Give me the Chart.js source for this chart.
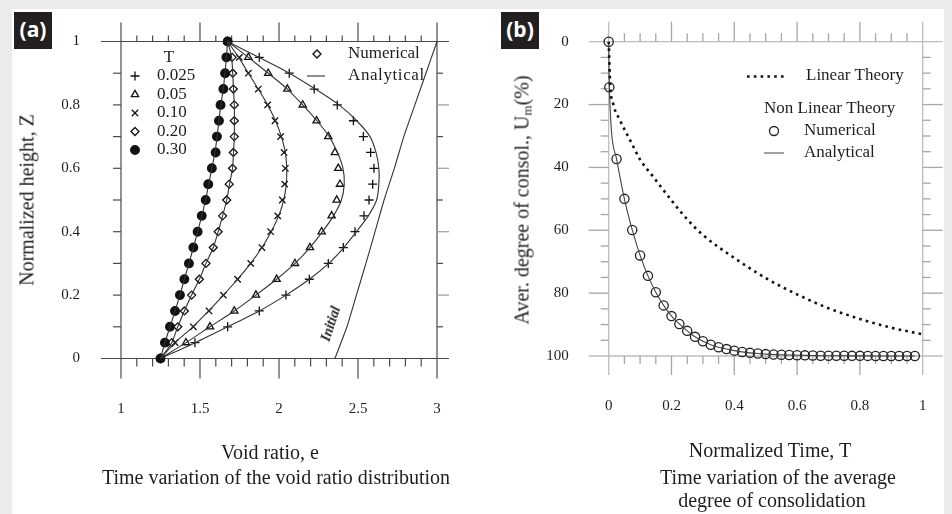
<!DOCTYPE html>
<html>
<head>
<meta charset="utf-8">
<script src="https://cdn.jsdelivr.net/npm/chart.js@4.4.0/dist/chart.umd.min.js"></script>
<style>
html, body { margin: 0; padding: 0; }
body { width: 952px; height: 514px; background: #ebebeb; position: relative; overflow: hidden; font-family: 'Liberation Serif', serif; color: #1e1e1e; }
#sheet { position: absolute; left: 12px; top: 9px; width: 932px; height: 505px; background: #fff; }
canvas { position: absolute; left: 0; top: 0; }
.tag { position: absolute; width: 38px; height: 37px; background: #231f20; color: #fff; font: bold 21px 'Open Sans', sans-serif; text-align: center; line-height: 35px; }
.t { position: absolute; white-space: nowrap; font-size: 20px; transform: translate(-50%, -50%); }
.rot { transform: translate(-50%, -50%) rotate(-90deg); }
.t sub { font-size: 13px; vertical-align: -3px; }
.init { position: absolute; font-size: 14px; font-style: italic; font-weight: bold; transform: translate(-50%, -50%) rotate(-72deg); white-space: nowrap; }
</style>
</head>
<body>
<div id="sheet"></div>
<canvas id="chartA" width="952" height="514"></canvas>
<canvas id="chartB" width="952" height="514"></canvas>

<div class="tag" style="left:14px; top:12px;">(a)</div>
<div class="tag" style="left:501px; top:12px;">(b)</div>

<div class="t rot" style="left:27px; top:200px;">Normalized height, Z</div>
<div class="t" style="left:270px; top:452px;">Void ratio, e</div>
<div class="t" style="left:276px; top:477px;">Time variation of the void ratio distribution</div>
<div class="init" style="left:331px; top:324px;">Initial</div>

<div class="t rot" style="left:523px; top:200px;">Aver. degree of consol., U<sub>m</sub>(%)</div>
<div class="t" style="left:770px; top:450px;">Normalized Time, T</div>
<div class="t" style="left:778px; top:477px;">Time variation of the average</div>
<div class="t" style="left:772px; top:500px;">degree of consolidation</div>

<script>
// ---- panel (a) data: void ratio e at normalized height Z ----
var zLevels = [0, 0.05, 0.1, 0.15, 0.2, 0.25, 0.3, 0.35, 0.4, 0.45, 0.5, 0.55, 0.6, 0.65, 0.7, 0.75, 0.8, 0.85, 0.9, 0.95, 1];
var tLabels = ['0.025', '0.05', '0.10', '0.20', '0.30'];

var eNum025 = [1.25, 1.468, 1.675, 1.875, 2.044, 2.192, 2.312, 2.407, 2.481, 2.538, 2.570, 2.593, 2.601, 2.580, 2.534, 2.471, 2.369, 2.223, 2.065, 1.875, 1.675];
var eNum05  = [1.25, 1.411, 1.563, 1.717, 1.854, 1.985, 2.101, 2.196, 2.270, 2.333, 2.365, 2.386, 2.375, 2.354, 2.312, 2.238, 2.150, 2.053, 1.932, 1.806, 1.675];
var eNum10  = [1.25, 1.342, 1.458, 1.557, 1.648, 1.738, 1.821, 1.892, 1.947, 1.992, 2.021, 2.036, 2.040, 2.032, 2.010, 1.975, 1.928, 1.869, 1.806, 1.749, 1.675];
var eNum20  = [1.25, 1.321, 1.359, 1.401, 1.447, 1.496, 1.538, 1.584, 1.615, 1.643, 1.669, 1.685, 1.706, 1.711, 1.717, 1.717, 1.717, 1.711, 1.707, 1.703, 1.675];
var eNum30  = [1.25, 1.278, 1.310, 1.342, 1.373, 1.401, 1.430, 1.458, 1.485, 1.511, 1.536, 1.552, 1.575, 1.599, 1.607, 1.620, 1.630, 1.648, 1.659, 1.667, 1.675];

var eAna025 = [1.25, 1.470, 1.675, 1.875, 2.044, 2.192, 2.315, 2.410, 2.490, 2.565, 2.618, 2.632, 2.632, 2.614, 2.576, 2.492, 2.380, 2.230, 2.065, 1.872, 1.675];
var eAna05  = [1.25, 1.411, 1.563, 1.717, 1.854, 1.985, 2.101, 2.196, 2.275, 2.345, 2.395, 2.413, 2.405, 2.370, 2.318, 2.240, 2.150, 2.053, 1.932, 1.806, 1.675];
var eAna10  = [1.25, 1.342, 1.455, 1.555, 1.648, 1.738, 1.821, 1.892, 1.950, 1.998, 2.030, 2.046, 2.049, 2.040, 2.015, 1.978, 1.928, 1.869, 1.806, 1.745, 1.675];
var eAna20  = [1.25, 1.321, 1.359, 1.401, 1.447, 1.496, 1.538, 1.584, 1.615, 1.643, 1.669, 1.687, 1.706, 1.712, 1.717, 1.718, 1.717, 1.712, 1.707, 1.700, 1.675];
var eAna30  = [1.25, 1.278, 1.310, 1.342, 1.373, 1.401, 1.430, 1.458, 1.485, 1.511, 1.536, 1.555, 1.575, 1.595, 1.608, 1.620, 1.632, 1.647, 1.658, 1.667, 1.675];

var zInit = [0, 0.1, 0.2, 0.3, 0.4, 0.5, 0.6, 0.7, 0.8, 0.9, 1];
var eInit = [2.354, 2.43, 2.49, 2.55, 2.608, 2.665, 2.73, 2.79, 2.86, 2.93, 3.0];

// ---- panel (b) data: average degree of consolidation vs normalized time ----
var tNum = [0, 0.002, 0.025, 0.05, 0.075, 0.1, 0.125, 0.15, 0.175, 0.2, 0.225, 0.25, 0.275, 0.3, 0.325, 0.35, 0.375, 0.4,
            0.425, 0.45, 0.475, 0.5, 0.525, 0.55, 0.575, 0.6, 0.625, 0.65, 0.675, 0.7, 0.725, 0.75, 0.775, 0.8,
            0.825, 0.85, 0.875, 0.9, 0.925, 0.95, 0.975];
var uNum = [0, 14.5, 37.3, 50, 59.9, 68, 74.5, 79.7, 83.9, 87.3, 89.8, 92, 93.9, 95.3, 96.4, 97.2, 97.8, 98.3,
            98.7, 99.0, 99.2, 99.4, 99.5, 99.6, 99.7, 99.75, 99.8, 99.85, 99.9, 99.9, 99.92, 99.94, 99.95, 99.96,
            99.97, 99.98, 99.98, 99.99, 99.99, 99.99, 100];
var tLin = [0, 0.005, 0.015, 0.036, 0.068, 0.1, 0.142, 0.2, 0.25, 0.3, 0.4, 0.5, 0.6, 0.7, 0.8, 0.9, 1.0];
var uLin = [0, 14, 20, 25, 31.3, 37.5, 43, 50.5, 56.5, 61.5, 68.8, 75.2, 80.4, 84.8, 88.2, 91.0, 93.1];

var xTicksA = [1, 1.5, 2, 2.5, 3];
var xTicksB = [0, 0.2, 0.4, 0.6, 0.8, 1];

Chart.defaults.font.family = "'Liberation Serif', serif";
Chart.defaults.color = '#1e1e1e';

function pts(xs, ys) {
    return xs.map(function (v, i) { return {x: v, y: ys[i]}; });
}
function seg(ctx, x1, y1, x2, y2) {
    ctx.beginPath();
    ctx.moveTo(x1, y1);
    ctx.lineTo(x2, y2);
    ctx.stroke();
}
// plain number labels: 1, 1.5, 0.2 ... (no trailing .0)
function plainLabel(v) {
    return String(+Number(v).toFixed(3));
}
// fixed axis size, and no extra label padding pushing the plot area around
function fixSize(w, h) {
    return function (s) {
        if (w !== null) s.width = w;
        if (h !== null) s.height = h;
        s.paddingLeft = s.paddingRight = s.paddingTop = s.paddingBottom = 0;
    };
}

var markersA = [
    {style: 'cross', r: 4.5, fill: 'rgba(0,0,0,0)'},
    {style: 'triangle', r: 4.2, fill: 'rgba(0,0,0,0)'},
    {style: 'crossRot', r: 4.5, fill: 'rgba(0,0,0,0)'},
    {style: 'rectRot', r: 4, fill: 'rgba(0,0,0,0)'},
    {style: 'circle', r: 4.3, fill: '#111'}
];
var numA = [eNum025, eNum05, eNum10, eNum20, eNum30];
var anaA = [eAna025, eAna05, eAna10, eAna20, eAna30];

var dsA = [];
anaA.forEach(function (arr) {
    dsA.push({data: pts(arr, zLevels), showLine: true, pointRadius: 0, borderColor: '#333', borderWidth: 1.1, tension: 0.25, clip: false});
});
dsA.push({data: pts(eInit, zInit), showLine: true, pointRadius: 0, borderColor: '#333', borderWidth: 1.1, tension: 0.2, clip: false});
numA.forEach(function (arr, i) {
    var m = markersA[i];
    dsA.push({data: pts(arr, zLevels), showLine: false, pointStyle: m.style, pointRadius: m.r,
              pointBorderColor: '#111', pointBackgroundColor: m.fill, pointBorderWidth: 1.3, clip: false});
});

// frame, minor ticks and legend of panel (a)
var frameA = {
    id: 'frameA',
    beforeDatasetsDraw: function (chart) {
        var ctx = chart.ctx, x = chart.scales.x, y = chart.scales.y;
        var l = x.getPixelForValue(1), r = x.getPixelForValue(3);
        var t = y.getPixelForValue(1), b = y.getPixelForValue(0);
        ctx.save();
        ctx.strokeStyle = '#4a4a4a';
        ctx.lineWidth = 1.2;
        seg(ctx, l - 20, t, r + 12, t);
        seg(ctx, l - 20, b, r + 12, b);
        seg(ctx, l, t - 19, l, b + 20);
        seg(ctx, r, t - 19, r, b + 20);
        for (var i = 1; i < 20; i++) {
            var px = x.getPixelForValue(1 + i * 0.1);
            var major = i % 5 === 0;
            seg(ctx, px, t, px, t - (major ? 19 : 6));
            seg(ctx, px, b, px, b + (major ? 20 : 8));
        }
        for (var j = 1; j < 10; j++) {
            var py = y.getPixelForValue(j * 0.1);
            seg(ctx, l - 8, py, l, py);
            ctx.strokeStyle = j % 2 === 0 ? '#9a9a9a' : '#4a4a4a';
            seg(ctx, r, py, r + (j % 2 === 0 ? 12 : 6), py);
            ctx.strokeStyle = '#4a4a4a';
        }
        ctx.restore();
    },
    afterDraw: function (chart) {
        var ctx = chart.ctx;
        var dp = Chart.helpers.drawPoint;
        ctx.save();
        ctx.font = "17px 'Liberation Serif'";
        ctx.fillStyle = '#1e1e1e';
        ctx.textBaseline = 'middle';
        ctx.textAlign = 'center';
        ctx.fillText('T', 169, 58);
        ctx.textAlign = 'left';
        tLabels.forEach(function (lab, i) {
            var yy = 76 + i * 18.5;
            var m = markersA[i];
            ctx.strokeStyle = '#111';
            ctx.fillStyle = m.fill;
            ctx.lineWidth = 1.3;
            dp(ctx, {pointStyle: m.style, radius: m.r, borderWidth: 1.3, rotation: 0}, 135, yy);
            ctx.fillStyle = '#1e1e1e';
            ctx.fillText(lab, 157, yy);
        });
        ctx.strokeStyle = '#111';
        ctx.fillStyle = 'rgba(0,0,0,0)';
        dp(ctx, {pointStyle: 'rectRot', radius: 4, borderWidth: 1.2, rotation: 0}, 317, 54);
        ctx.strokeStyle = '#333';
        ctx.lineWidth = 1.1;
        seg(ctx, 307, 76, 325, 76);
        ctx.fillStyle = '#1e1e1e';
        ctx.fillText('Numerical', 348, 54);
        ctx.letterSpacing = '0.6px';
        ctx.fillText('Analytical', 348, 76);
        ctx.restore();
    }
};

new Chart(document.getElementById('chartA'), {
    type: 'scatter',
    data: {datasets: dsA},
    options: {
        responsive: false,
        animation: false,
        events: [],
        layout: {autoPadding: false, padding: {left: 0, top: 41.5, right: 515, bottom: 0}},
        plugins: {legend: {display: false}, tooltip: {enabled: false}},
        scales: {
            x: {
                type: 'linear', min: 1, max: 3,
                afterFit: fixSize(null, 155.5),
                afterBuildTicks: function (s) { s.ticks = xTicksA.map(function (v) { return {value: v}; }); },
                ticks: {padding: 41.5, font: {size: 15}, color: '#1e1e1e', callback: plainLabel},
                grid: {display: false, drawTicks: false},
                border: {display: false}
            },
            y: {
                type: 'linear', min: 0, max: 1,
                afterFit: fixSize(121, null),
                ticks: {stepSize: 0.2, padding: 41, font: {size: 15}, color: '#1e1e1e', callback: plainLabel},
                grid: {display: false, drawTicks: false},
                border: {display: false}
            }
        }
    },
    plugins: [frameA]
});

// ---- panel (b) ----
var frameB = {
    id: 'frameB',
    beforeDatasetsDraw: function (chart) {
        var ctx = chart.ctx, x = chart.scales.x, y = chart.scales.y;
        var l = x.getPixelForValue(0), r = x.getPixelForValue(1);
        var t = y.getPixelForValue(0), b = y.getPixelForValue(100);
        ctx.save();
        ctx.strokeStyle = '#bcbcbc';
        ctx.lineWidth = 1.3;
        seg(ctx, l - 20, t, r + 20, t);
        seg(ctx, l - 20, b, r + 20, b);
        seg(ctx, l, t - 20, l, b + 19);
        seg(ctx, r, t - 20, r, b + 19);
        ctx.strokeStyle = '#a6a6a6';
        for (var i = 1; i < 20; i++) {
            var px = x.getPixelForValue(i * 0.05);
            var major = i % 4 === 0;
            seg(ctx, px, t, px, t - (major ? 20 : 8.5));
            seg(ctx, px, b, px, b + (major ? 19 : 8));
        }
        for (var j = 1; j < 20; j++) {
            var py = y.getPixelForValue(j * 5);
            var mj = j % 4 === 0;
            seg(ctx, l - (mj ? 20 : 8), py, l, py);
            seg(ctx, r, py, r + (mj ? 20 : 8), py);
        }
        ctx.restore();
    },
    afterDraw: function (chart) {
        var ctx = chart.ctx;
        ctx.save();
        ctx.font = "17px 'Liberation Serif'";
        ctx.fillStyle = '#1e1e1e';
        ctx.textBaseline = 'middle';
        ctx.textAlign = 'left';
        ctx.strokeStyle = '#111';
        ctx.lineWidth = 2.6;
        ctx.setLineDash([2.6, 4.2]);
        seg(ctx, 747, 76.5, 786, 76.5);
        ctx.setLineDash([]);
        ctx.fillText('Linear Theory', 806, 76);
        ctx.fillText('Non Linear Theory', 764, 109);
        ctx.strokeStyle = '#222';
        ctx.lineWidth = 1.3;
        ctx.beginPath();
        ctx.arc(774, 131, 4.5, 0, Math.PI * 2);
        ctx.stroke();
        ctx.fillText('Numerical', 804, 131);
        ctx.strokeStyle = '#555';
        ctx.lineWidth = 1.1;
        seg(ctx, 764, 153, 784, 153);
        ctx.fillText('Analytical', 804, 153);
        ctx.restore();
    }
};

new Chart(document.getElementById('chartB'), {
    type: 'scatter',
    data: {
        datasets: [
            {data: pts(tLin, uLin), showLine: true, pointRadius: 0, borderColor: '#111', borderWidth: 2.6,
             borderDash: [2.6, 4.2], cubicInterpolationMode: 'monotone', clip: false},
            {data: pts(tNum, uNum), showLine: true, pointRadius: 0, borderColor: '#444', borderWidth: 1.1,
             cubicInterpolationMode: 'monotone', clip: false},
            {data: pts(tNum, uNum), showLine: false, pointStyle: 'circle', pointRadius: 4.6,
             pointBorderColor: '#222', pointBackgroundColor: 'rgba(0,0,0,0)', pointBorderWidth: 1.3, clip: false}
        ]
    },
    options: {
        responsive: false,
        animation: false,
        events: [],
        layout: {autoPadding: false, padding: {left: 0, top: 41.7, right: 29.3, bottom: 0}},
        plugins: {legend: {display: false}, tooltip: {enabled: false}},
        scales: {
            x: {
                type: 'linear', min: 0, max: 1,
                afterFit: fixSize(null, 158),
                afterBuildTicks: function (s) { s.ticks = xTicksB.map(function (v) { return {value: v}; }); },
                ticks: {padding: 41, font: {size: 15}, color: '#1e1e1e', callback: plainLabel},
                grid: {display: false, drawTicks: false},
                border: {display: false}
            },
            y: {
                type: 'linear', min: 0, max: 100, reverse: true,
                afterFit: fixSize(608.7, null),
                ticks: {stepSize: 20, padding: 40, font: {size: 15}, color: '#1e1e1e', callback: plainLabel},
                grid: {display: false, drawTicks: false},
                border: {display: false}
            }
        }
    },
    plugins: [frameB]
});
</script>
</body>
</html>
